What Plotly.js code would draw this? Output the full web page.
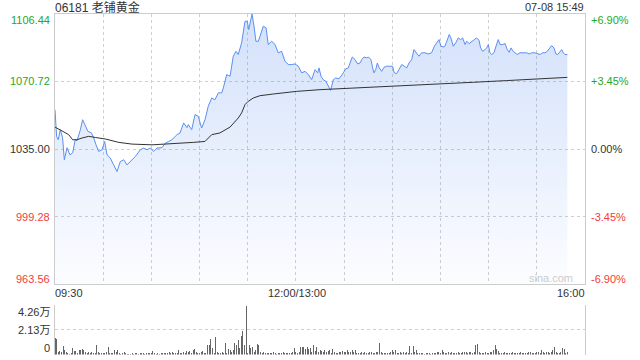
<!DOCTYPE html>
<html>
<head>
<meta charset="utf-8">
<script src="https://cdn.plot.ly/plotly-3.0.1.min.js"></script>
<style>html,body{margin:0;padding:0;background:#fff;}#chart{width:640px;height:360px;}</style>
</head>
<body>
<div id="chart"></div>
<script>
// ---- data (minutes since 09:30 on a 330-minute trading axis, 12:00/13:00 at 150) ----
const minutes = [0,1,2,3.3,4.7,5.8,7.5,9.3,11,12.6,13.7,15.8,17.2,18.9,20.5,22.6,24.1,25.5,27.2,29.3,30.9,32.4,34.4,36.5,38.6,40.7,42.8,44.8,47.9,50,53.1,55.2,57.3,59.3,61.5,63.5,66.6,68.7,70.8,72.8,76,77.8,80.1,82.2,83,85.1,87.2,89.2,91.3,93.4,95.4,97.6,99.6,101.7,103.8,104.8,106.9,109,111,112.7,114.1,116.2,118.3,119.7,120.6,121.8,122.7,123.9,125.1,126.6,128.7,129.7,131.4,132.8,134.9,137,139,141.1,143.2,145.3,147.4,149.4,151.5,153.6,155.7,157.7,159.8,161.9,163.6,164.4,165.6,167,168.7,170.2,171.6,173.3,174.8,176.8,178.1,179.5,181,182.6,183.7,185.1,186.8,188.5,189.9,191,192.4,194.1,195.1,196.7,197.8,198.6,199.7,200.7,201.9,203.4,204.8,206.5,208.6,210.2,211.2,212.7,214.2,215.9,217.5,219,220.4,222.1,223.5,225.2,226.6,228.3,230.4,232.4,234.5,236.2,237.6,239.1,240.3,241.7,242.8,244.2,245.5,246.5,248,249.5,251.1,252.6,253.8,255.3,256.3,257.9,259.4,261.1,262.5,264,265,266.3,267.7,268.8,269.8,270.8,271.9,273.3,274.6,276,277.1,278.7,280.2,281.6,282.8,283.9,285.3,286.8,287.8,289.5,291.6,293.7,295.3,296.8,298.8,300.3,302,303.6,305.1,306.5,307.8,309.2,310.7,311.9,313,314.4,315.5,316.5,317.5,319];
const prices = [1055.8,1041.6,1039.9,1045.2,1041.0,1029.3,1035.7,1031.9,1033.0,1039.9,1039.4,1045.2,1050.5,1047.0,1044.3,1043.6,1041.0,1037.3,1033.7,1034.6,1039.0,1031.9,1030.2,1026.6,1023.1,1028.4,1029.3,1026.6,1029.3,1031.0,1034.6,1035.5,1034.6,1035.5,1033.7,1035.5,1035.7,1038.1,1039.0,1039.9,1042.6,1043.4,1048.8,1046.3,1047.9,1045.2,1053.2,1052.3,1046.1,1050.5,1057.6,1062.0,1061.1,1064.7,1064.7,1067.3,1074.4,1073.5,1084.1,1086.7,1085.0,1091.2,1102.6,1102.6,1098.2,1102.6,1106.4,1100.0,1092.0,1092.0,1098.2,1100.0,1099.1,1090.3,1092.0,1090.3,1085.9,1086.7,1081.4,1079.7,1079.7,1080.0,1078.8,1075.3,1076.1,1074.4,1071.7,1077.0,1075.3,1077.9,1073.5,1071.7,1070.8,1068.2,1066.0,1071.7,1072.6,1072.1,1073.5,1075.3,1077.4,1077.9,1080.5,1083.7,1082.3,1080.0,1080.5,1082.3,1083.7,1083.2,1083.7,1082.3,1077.9,1075.3,1077.0,1080.5,1077.9,1076.1,1078.2,1078.8,1078.8,1078.8,1075.3,1074.9,1077.0,1079.7,1078.8,1077.9,1080.5,1082.3,1087.6,1085.9,1084.1,1085.9,1085.9,1085.3,1085.9,1089.4,1091.2,1092.9,1089.4,1089.0,1089.4,1092.9,1095.6,1093.8,1089.4,1091.2,1093.8,1092.9,1093.8,1090.3,1092.0,1090.8,1092.0,1092.9,1093.8,1092.5,1088.5,1086.7,1087.6,1088.5,1090.3,1085.9,1085.0,1085.9,1089.4,1092.9,1090.3,1090.3,1090.8,1087.6,1086.2,1088.5,1086.7,1085.9,1085.0,1085.9,1085.9,1085.9,1085.3,1085.9,1085.9,1085.3,1085.0,1085.9,1085.9,1086.7,1088.5,1089.7,1088.5,1085.3,1085.0,1086.7,1087.6,1085.9,1085.0,1085.0];

const avgMinutes = [0,4.4,8.5,11,13.7,16.8,21,25.1,31.3,39.7,47.9,60.4,68.7,77,86.1,93.4,97.6,102.7,109,114.1,116.2,118.3,120.3,123.5,127.6,135.9,150.5,165,188.8,213.7,242.8,260.4,281.2,302,319];
const avgPrices = [1046.6,1044.3,1042.6,1039.9,1039.9,1040.8,1041.7,1041.1,1040.3,1038.5,1037.6,1037.2,1037.6,1037.8,1038.5,1039.0,1042.6,1043.5,1046.6,1051.4,1054.1,1058.5,1060.2,1062.0,1063.2,1064.1,1065.5,1066.4,1067.3,1068.2,1069.4,1070.3,1071.2,1072.1,1072.9];

// one volume value per minute, minute 0 .. 319
const volumes = [
14500,13600,2000,3000,2500,7700,3500,2000,1000,800,1500,6000,2800,3000,1500,3500,4000,5000,3600,1800,
1200,2500,1700,1800,1500,1200,8500,1800,1500,1000,1000,1500,2200,6800,1500,1000,1200,3700,1800,4300,
1200,800,1000,1800,1000,600,800,500,900,700,1000,1200,700,1000,1300,1100,800,1400,900,1000,
1200,3200,1000,800,1500,700,1200,1000,1500,900,1400,1800,1100,2000,1500,1000,1700,4300,1500,1000,
2200,1500,2800,1800,3000,1500,4000,5100,1800,1200,1000,2000,3000,1500,1200,8500,8500,13600,5700,1500,
15000,1800,1500,1200,2000,1500,10200,1500,5100,4000,2000,3500,10200,8500,12200,6000,15900,19900,8500,42000,
1500,8500,5700,6500,2000,3500,9100,7900,2500,1500,2000,1200,1500,1000,1200,1500,2000,1000,800,1200,
1500,1000,1800,1200,1000,1500,1000,1200,2000,5700,2000,1500,2500,6200,6500,6500,5000,6200,4500,5700,
2000,7900,3000,6500,2500,4200,3000,2500,3500,2000,3000,4300,1500,5100,2500,1000,1500,2000,2500,3000,
1800,2200,4300,2500,1800,4300,2000,4300,1500,1000,1500,2000,1200,2500,1500,1000,1800,2200,1500,1200,
2000,1800,10200,2000,1500,1000,1500,1200,1500,2000,4300,2000,4300,1500,1200,2000,1500,1800,1200,2000,
1500,7100,1500,7100,2000,4300,1200,1000,1500,1000,800,1200,1500,1000,800,1200,1000,1500,2000,2500,
1500,3700,2000,1500,1200,1800,1500,2000,1000,1200,1500,2000,1200,1500,2000,2500,1800,1500,2000,2500,
1500,2000,7900,9400,2000,1500,1200,1500,1800,1200,1500,2000,1800,3700,8500,4500,3000,1500,1200,1500,
2000,1500,1000,1500,1200,1800,1500,1000,1200,1500,2000,1500,1200,1000,1500,1800,2000,1500,1200,1500,
2000,2500,1500,4300,2000,1500,2000,2500,1500,2000,4300,6500,2000,1500,1200,1800,5700,4500,1500,2000];
const volMinutes = volumes.map((v, i) => i);

const prevClose = 1035.00;
const priceTicks = [963.56, 999.28, 1035.00, 1070.72, 1106.44];
const priceTickLabels = ['963.56', '999.28', '1035.00', '1070.72', '1106.44'];
const pctTickLabels = ['-6.90%', '-3.45%', '0.00%', '+3.45%', '+6.90%'];
const volTicks = [0, 21300, 42600];
const volTickLabels = ['0', '2.13万', '4.26万'];
const timeTicks = [0, 150, 330];
const timeTickLabels = ['09:30', '12:00/13:00', '16:00'];
const titleText = '06181 老铺黄金';
const stampText = '07-08 15:49';

// ---- styles ----
const FONT = 'Arial, "Liberation Sans", "Noto Sans CJK SC", sans-serif';
const GREEN = '#26a826', RED = '#f03c3c', GREY = '#333333', GRID = '#cfcfcf';
function tickColor(v) { return v > prevClose + 0.001 ? GREEN : (v < prevClose - 0.001 ? RED : GREY); }

const W = 640, H = 360;
const xDom = [55 / W, 585 / W];
const yDom = [(H - 284) / H, (H - 14) / H];
const vDom = [(H - 354.5) / H, (H - 305) / H];

const traces = [
  {
    x: minutes, y: prices, type: 'scatter', mode: 'lines', xaxis: 'x', yaxis: 'y',
    line: { color: '#5b8ff0', width: 1 },
    fill: 'tozeroy',
    fillgradient: { type: 'vertical', start: priceTicks[0], stop: priceTicks[4],
      colorscale: [[0, 'rgba(91,143,240,0.02)'], [1, 'rgba(91,143,240,0.27)']] },
    hoverinfo: 'skip'
  },
  {
    x: avgMinutes, y: avgPrices, type: 'scatter', mode: 'lines', xaxis: 'x', yaxis: 'y',
    line: { color: '#333333', width: 1 }, hoverinfo: 'skip'
  },
  {
    x: volMinutes, y: volumes, type: 'bar', xaxis: 'x2', yaxis: 'y2',
    marker: { color: '#666666', line: { width: 0 } }, width: 0.62, hoverinfo: 'skip'
  }
];

const annotations = [];
priceTicks.forEach((v, i) => {
  let yanchor = 'middle', yshift = 0;
  if (i === 0) { yanchor = 'bottom'; yshift = -3; }
  if (i === priceTicks.length - 1) { yanchor = 'top'; yshift = 2; }
  const c = tickColor(v);
  annotations.push({ xref: 'paper', yref: 'y', x: 52 / W, y: v, xanchor: 'right', yanchor, yshift,
    text: priceTickLabels[i], showarrow: false, font: { family: FONT, size: 11, color: c } });
  annotations.push({ xref: 'paper', yref: 'y', x: 589 / W, y: v, xanchor: 'left', yanchor, yshift,
    text: pctTickLabels[i], showarrow: false, font: { family: FONT, size: 11, color: c } });
});
volTicks.forEach((v, i) => {
  let yanchor = 'middle', yshift = 0;
  if (i === 0) { yanchor = 'bottom'; yshift = -1; }
  if (i === volTicks.length - 1) { yanchor = 'top'; yshift = 1; }
  annotations.push({ xref: 'paper', yref: 'y2', x: 52 / W, y: v, xanchor: 'right', yanchor, yshift,
    text: volTickLabels[i], showarrow: false, font: { family: FONT, size: 11, color: GREY } });
});
timeTicks.forEach((v, i) => {
  const xanchor = i === 0 ? 'left' : (i === timeTicks.length - 1 ? 'right' : 'center');
  annotations.push({ xref: 'x', yref: 'paper', x: v, y: (H - 293) / H, xanchor, yanchor: 'middle',
    xshift: i === 0 ? -2 : (i === 2 ? 2 : 1),
    text: timeTickLabels[i], showarrow: false, font: { family: FONT, size: 11, color: GREY } });
});
annotations.push({ xref: 'paper', yref: 'paper', x: 53 / W, y: (H - 7) / H, xanchor: 'left', yanchor: 'middle',
  text: titleText, showarrow: false, font: { family: FONT, size: 12, color: GREY } });
annotations.push({ xref: 'paper', yref: 'paper', x: 586 / W, y: (H - 7) / H, xanchor: 'right', yanchor: 'middle',
  text: stampText, showarrow: false, font: { family: FONT, size: 11, color: GREY } });
annotations.push({ xref: 'paper', yref: 'paper', x: 575 / W, y: (H - 278) / H, xanchor: 'right', yanchor: 'middle',
  text: 'sina.com', showarrow: false, font: { family: FONT, size: 11, color: '#cccccc' } });

const layout = {
  width: W, height: H,
  margin: { l: 0, r: 0, t: 0, b: 0, pad: 0 },
  paper_bgcolor: '#ffffff', plot_bgcolor: 'rgba(0,0,0,0)',
  showlegend: false,
  xaxis: { domain: xDom, range: [0, 330], anchor: 'y', tickvals: [30,60,90,120,150,180,210,240,270,300],
    showticklabels: false, ticks: '', showgrid: true, gridcolor: GRID, griddash: 'dot', gridwidth: 1,
    showline: true, linecolor: '#cccccc', linewidth: 1, mirror: true, zeroline: false, fixedrange: true },
  yaxis: { domain: yDom, range: [priceTicks[0], priceTicks[4]], anchor: 'x', tickvals: [999.28, 1035.00, 1070.72],
    showticklabels: false, ticks: '', showgrid: true, gridcolor: GRID, griddash: 'dot', gridwidth: 1,
    showline: true, linecolor: '#cccccc', linewidth: 1, mirror: true, zeroline: false, fixedrange: true },
  xaxis2: { domain: xDom, range: [0, 330], anchor: 'y2', showticklabels: false, ticks: '', showgrid: false,
    showline: false, zeroline: false, fixedrange: true },
  yaxis2: { domain: vDom, range: [0, 42600], anchor: 'x2', tickvals: volTicks, showticklabels: false, ticks: '',
    showgrid: true, gridcolor: GRID, griddash: 'dot', gridwidth: 1,
    showline: true, linecolor: '#cccccc', linewidth: 1, mirror: true, zeroline: false, fixedrange: true },
  bargap: 0,
  annotations
};

Plotly.newPlot('chart', traces, layout, { staticPlot: true, displayModeBar: false });
</script>
</body>
</html>
